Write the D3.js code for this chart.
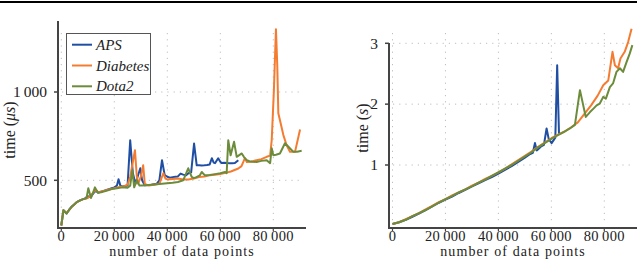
<!DOCTYPE html>
<html lang="en">
<head>
    <meta charset="UTF-8">
    <title>Timing vs data points</title>
    <style>
        body { margin: 0; background: #fff; }
        svg { display: block; }
        text { font-family: "Liberation Serif", "DejaVu Serif", serif; fill: #222; }
    </style>
</head>
<body>
    <div id="chart"></div>

    <script src="https://d3js.org/d3.v7.min.js"></script>
    <script>
        // ---- data ----
        const seriesNames = ['APS', 'Diabetes', 'Dota2'];
        const seriesColors = ['#1f4ea3', '#f47c30', '#6c8c3c'];

        const xTicks = [0, 20000, 40000, 60000, 80000];
        const leftYTicks = [500, 1000];
        const rightYTicks = [1, 2, 3];

        // left panel: time in microseconds
        const apsMicro = [[0,244],[800,330],[2000,312],[3000,335],[4000,352],[5000,365],[6000,378],[7000,386],[8000,392],[9000,398],[10000,410],[11000,405],[12000,425],[13000,440],[14000,430],[15000,435],[16000,440],[17000,445],[18000,450],[19000,455],[20000,460],[21000,470],[21600,506],[22300,470],[23000,465],[24000,468],[25000,470],[26000,727],[27000,540],[28000,480],[29000,530],[29800,568],[30500,500],[31500,472],[33000,474],[34000,475],[35000,478],[36000,480],[37000,500],[38000,614],[39000,530],[40000,520],[41000,515],[42000,518],[43000,520],[44000,522],[45000,538],[46000,532],[47000,528],[48000,540],[49000,545],[50100,708],[51100,585],[52000,585],[53000,584],[54000,585],[55000,587],[56000,590],[56800,625],[57500,600],[58000,597],[59200,625],[60000,605],[60500,598],[61500,600],[62500,598],[63700,597],[64500,596],[65500,598],[66800,614]];
        const diabetesMicro = [[0,244],[800,330],[2000,315],[4000,350],[6000,378],[8000,392],[10000,400],[11000,410],[12000,430],[13000,445],[14000,432],[16000,440],[18000,448],[20000,455],[22000,462],[24000,468],[25000,475],[26000,520],[27800,670],[28500,520],[29000,480],[30000,520],[30900,585],[31500,480],[33000,470],[35000,475],[37000,480],[38500,540],[39300,510],[40000,505],[42000,508],[44000,510],[46000,505],[48000,505],[50000,510],[52000,518],[54000,522],[56000,528],[58000,532],[60000,536],[62000,542],[64000,550],[66800,567],[68000,580],[69300,625],[70000,604],[71500,605],[73700,614],[75500,620],[77500,633],[78800,640],[79400,727],[80200,1000],[81000,1356],[81500,1150],[81900,880],[83800,756],[85000,700],[86300,661],[88200,661],[90100,788]];
        const dotaMicro = [[0,244],[800,330],[2000,312],[4000,352],[6000,378],[8000,392],[9500,398],[10200,455],[11200,400],[12000,430],[12700,460],[13800,430],[15000,432],[17000,440],[19000,450],[21000,455],[23000,460],[25000,458],[26000,470],[26800,557],[27500,460],[28500,500],[29500,470],[30500,470],[32000,472],[34000,475],[36000,477],[38000,480],[40000,483],[42000,486],[44000,490],[46000,500],[47900,568],[49200,519],[50000,512],[51000,518],[52300,528],[53000,547],[54200,528],[56000,530],[58000,535],[60000,540],[61800,547],[62400,540],[63000,727],[63900,642],[65200,718],[66200,633],[68100,652],[69000,630],[70000,614],[71000,608],[72000,605],[73700,604],[75500,610],[77500,614],[78800,597],[79400,682],[80000,642],[81000,645],[82500,652],[84400,710],[85700,690],[87600,661],[89000,662],[90700,667]];

        // right panel: time in seconds
        const apsSec = [[0,0.03],[2500,0.06],[5000,0.1],[7500,0.15],[10000,0.2],[12500,0.26],[15000,0.32],[17500,0.38],[20000,0.43],[22500,0.48],[25000,0.54],[27500,0.59],[30000,0.65],[32500,0.7],[35000,0.75],[37500,0.8],[40000,0.86],[42500,0.92],[45000,0.98],[47500,1.05],[50000,1.12],[52000,1.18],[53000,1.2],[53800,1.36],[54500,1.24],[56000,1.3],[57200,1.33],[58200,1.6],[59000,1.43],[60100,1.36],[61500,1.45],[62200,2.64],[62900,1.5]];
        const diabetesSec = [[0,0.03],[2500,0.06],[5000,0.11],[7500,0.16],[10000,0.21],[12500,0.27],[15000,0.33],[17500,0.39],[20000,0.44],[22500,0.5],[25000,0.55],[27500,0.6],[30000,0.66],[32500,0.71],[35000,0.77],[37500,0.82],[40000,0.88],[42500,0.94],[45000,1.01],[47500,1.08],[50000,1.15],[52500,1.22],[55000,1.3],[57500,1.37],[60000,1.44],[62500,1.5],[65000,1.55],[67500,1.62],[70000,1.7],[72500,1.84],[75000,1.98],[77500,2.14],[79600,2.31],[81500,2.39],[83100,2.86],[84000,2.64],[85200,2.59],[86100,2.75],[87700,2.86],[89000,3.02],[90300,3.24]];
        const dotaSec = [[0,0.03],[2500,0.06],[5000,0.1],[7500,0.16],[10000,0.21],[12500,0.26],[15000,0.32],[17500,0.38],[20000,0.44],[22500,0.49],[25000,0.55],[27500,0.6],[30000,0.65],[32500,0.71],[35000,0.76],[37500,0.82],[40000,0.88],[42500,0.94],[45000,1.0],[47500,1.07],[50000,1.14],[52500,1.21],[55000,1.29],[57500,1.36],[60000,1.43],[62500,1.49],[65000,1.55],[67000,1.6],[68900,1.66],[70800,2.23],[73000,1.79],[74600,1.87],[76000,1.93],[77100,1.98],[78300,2.01],[79600,2.12],[80600,2.09],[82100,2.28],[83300,2.34],[84600,2.53],[85900,2.59],[87100,2.53],[88400,2.69],[89600,2.83],[90600,2.97]];

        const W = 640, H = 259;
        const axisColor = '#444';
        const gridColor = '#bdbdbd';

        const svg = d3.select('#chart').append('svg')
            .attr('width', W).attr('height', H);

        // rule at the very top
        svg.append('line')
            .attr('x1', 0).attr('x2', 637).attr('y1', 2).attr('y2', 2)
            .attr('stroke', '#000').attr('stroke-width', 2);

        const fmtX = d => d === 0 ? '0' : d3.format(',')(d).replace(',', '\u2009');
        const fmtY = d => d3.format(',')(d).replace(',', '\u2009');

        function drawPanel(p) {
            const x = d3.scaleLinear().domain([0, 80000]).range(p.xRange);
            const y = d3.scaleLinear().domain(p.yDomain).range(p.yRange);
            const g = svg.append('g');

            // dotted grid
            g.selectAll('.vgrid').data(xTicks).join('line')
                .attr('x1', d => x(d)).attr('x2', d => x(d))
                .attr('y1', p.gridTop).attr('y2', p.gridBottom)
                .attr('stroke', gridColor).attr('stroke-width', 1)
                .attr('stroke-dasharray', '1.2,5');
            g.selectAll('.hgrid').data(p.yTicks).join('line')
                .attr('x1', p.gridLeft).attr('x2', p.gridRight)
                .attr('y1', d => y(d)).attr('y2', d => y(d))
                .attr('stroke', gridColor).attr('stroke-width', 1)
                .attr('stroke-dasharray', '1.2,5');

            // spines
            g.append('line')
                .attr('x1', p.spineX).attr('x2', p.spineX)
                .attr('y1', p.spineTop).attr('y2', p.spineY + 1)
                .attr('stroke', axisColor).attr('stroke-width', 2);
            g.append('line')
                .attr('x1', p.spineX - 1).attr('x2', p.spineRight)
                .attr('y1', p.spineY).attr('y2', p.spineY)
                .attr('stroke', axisColor).attr('stroke-width', 2);

            // ticks + labels
            g.selectAll('.ytick').data(p.yTicks).join('line')
                .attr('x1', p.spineX - 4).attr('x2', p.spineX)
                .attr('y1', d => y(d)).attr('y2', d => y(d))
                .attr('stroke', axisColor).attr('stroke-width', 1.5);
            g.selectAll('.ylab').data(p.yTicks).join('text')
                .attr('x', p.spineX - 11).attr('y', d => y(d))
                .attr('dy', '0.34em')
                .attr('text-anchor', 'end')
                .style('font-size', '15.5px')
                .text(fmtY);
            g.selectAll('.xtick').data(xTicks).join('line')
                .attr('x1', d => x(d)).attr('x2', d => x(d))
                .attr('y1', p.spineY).attr('y2', p.spineY + 3)
                .attr('stroke', axisColor).attr('stroke-width', 1.2);
            g.selectAll('.xlab').data(xTicks).join('text')
                .attr('x', d => x(d)).attr('y', 240.5)
                .attr('text-anchor', 'middle')
                .style('font-size', '14.5px')
                .style('letter-spacing', '0.3px')
                .text(fmtX);

            g.append('text')
                .attr('x', p.xLabelX).attr('y', 255.8)
                .attr('text-anchor', 'middle')
                .style('font-size', '14px')
                .style('letter-spacing', '1.1px')
                .text('number of data points');

            const yl = g.append('text')
                .attr('transform', `translate(${p.yLabelX},${p.yLabelY}) rotate(-90)`)
                .attr('text-anchor', 'middle')
                .style('font-size', '16px');
            yl.append('tspan').text('time (');
            yl.append('tspan').style('font-style', 'italic').text(p.unit);
            yl.append('tspan').text(')');

            // lines
            const line = d3.line().x(d => x(d[0])).y(d => y(d[1]));
            p.series.forEach((s, i) => {
                g.append('path')
                    .datum(s)
                    .attr('d', line)
                    .attr('fill', 'none')
                    .attr('stroke', seriesColors[i])
                    .attr('stroke-width', 2)
                    .attr('stroke-linejoin', 'round');
            });
            return g;
        }

        const left = drawPanel({
            xRange: [61.3, 273.3], yDomain: [500, 1000], yRange: [180.3, 92],
            yTicks: leftYTicks,
            gridTop: 33, gridBottom: 225, gridLeft: 62, gridRight: 299,
            spineX: 58, spineTop: 21, spineY: 228, spineRight: 306,
            xLabelX: 182, yLabelX: 15, yLabelY: 130, unit: '\u03bcs',
            series: [apsMicro, diabetesMicro, dotaMicro]
        });

        drawPanel({
            xRange: [392.5, 604.3], yDomain: [1, 3], yRange: [165, 43.3],
            yTicks: rightYTicks,
            gridTop: 33, gridBottom: 225, gridLeft: 393, gridRight: 633,
            spineX: 389, spineTop: 43, spineY: 228, spineRight: 637,
            xLabelX: 513, yLabelX: 368, yLabelY: 128, unit: 's',
            series: [apsSec, diabetesSec, dotaSec]
        });

        // legend (left panel)
        const leg = left.append('g');
        leg.append('rect')
            .attr('x', 66.5).attr('y', 33.5).attr('width', 84).attr('height', 61)
            .attr('fill', '#fff').attr('stroke', '#555').attr('stroke-width', 1);
        seriesNames.forEach((name, i) => {
            const cy = 44.7 + i * 20.8;
            leg.append('line')
                .attr('x1', 72).attr('x2', 92).attr('y1', cy).attr('y2', cy)
                .attr('stroke', seriesColors[i]).attr('stroke-width', 2);
            leg.append('text')
                .attr('x', 96).attr('y', cy).attr('dy', '0.34em')
                .style('font-size', '15px').style('font-style', 'italic')
                .text(name);
        });
    </script>
</body>
</html>
